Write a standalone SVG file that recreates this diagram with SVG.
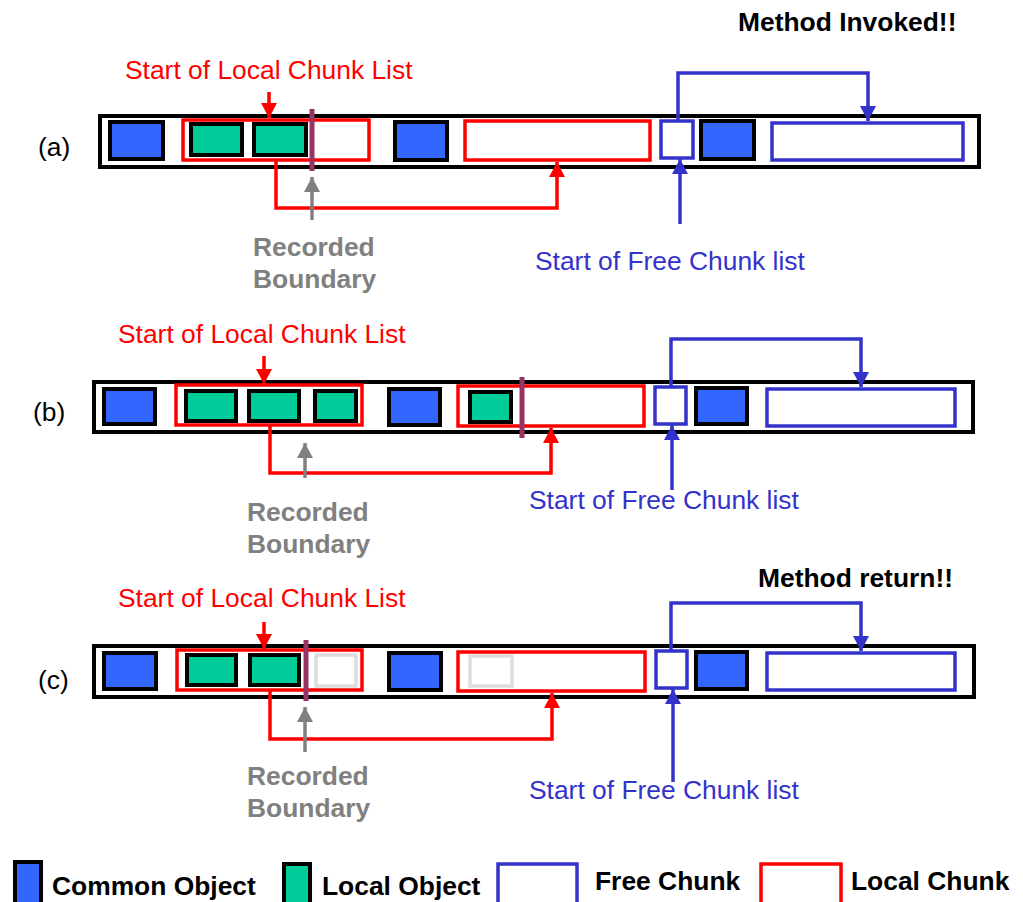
<svg xmlns="http://www.w3.org/2000/svg" width="1023" height="902" viewBox="0 0 1023 902">
<defs>
<style>
.t{font-family:"Liberation Sans",Arial,sans-serif;font-size:26.4px}
.b{font-weight:bold}
.outer{fill:#fff;stroke:#000;stroke-width:4}
.common{fill:#3366FF;stroke:#000;stroke-width:4}
.local{fill:#00CC99;stroke:#000;stroke-width:4}
.lchunk{fill:none;stroke:#FF0000;stroke-width:3.5}
.fchunk{fill:none;stroke:#3333CC;stroke-width:3.5}
.ghost{fill:none;stroke:#DDDDDD;stroke-width:3.5}
.bound{stroke:#993366;stroke-width:5}
.rc{fill:none;stroke:#FF0000;stroke-width:3.5;marker-end:url(#ar)}
.bc{fill:none;stroke:#3333CC;stroke-width:3.5;marker-end:url(#ab)}
.gc{fill:none;stroke:#808080;stroke-width:3.5;marker-end:url(#ag)}
</style>
<marker id="ar" markerUnits="userSpaceOnUse" markerWidth="16" markerHeight="16" refX="15" refY="8" orient="auto"><path d="M0,0 L15,8 L0,16 z" fill="#FF0000"/></marker>
<marker id="ab" markerUnits="userSpaceOnUse" markerWidth="16" markerHeight="16" refX="15" refY="8" orient="auto"><path d="M0,0 L15,8 L0,16 z" fill="#3333CC"/></marker>
<marker id="ag" markerUnits="userSpaceOnUse" markerWidth="16" markerHeight="16" refX="15" refY="8" orient="auto"><path d="M0,0 L15,8 L0,16 z" fill="#808080"/></marker>
</defs>
<rect width="1023" height="902" fill="#fff"/>

<!-- Panel (a) -->
<g id="panel-a">
<text class="t" x="38" y="156">(a)</text>
<text class="t b" x="738" y="31">Method Invoked!!</text>
<rect class="outer" x="100" y="116" width="879" height="51"/>
<rect id="a-common1" class="common" x="110" y="122" width="53" height="37"/>
<rect id="a-local1" class="local" x="191" y="124" width="51" height="31"/>
<rect id="a-local2" class="local" x="254" y="124" width="52" height="31"/>
<rect id="a-lchunk1" class="lchunk" x="183" y="120" width="186" height="40"/>
<rect id="a-common2" class="common" x="395" y="122" width="52" height="38"/>
<rect id="a-lchunk2" class="lchunk" x="465" y="121" width="185" height="39"/>
<rect id="a-fchunk1" class="fchunk" x="661" y="121" width="32" height="37"/>
<rect id="a-common3" class="common" x="701" y="121" width="53" height="38"/>
<rect id="a-fchunk2" class="fchunk" x="772" y="123" width="191" height="37"/>
<line id="a-boundary" class="bound" x1="312" y1="109" x2="312" y2="171"/>
</g>

<!-- Panel (b) -->
<g id="panel-b">
<text class="t" x="33" y="421">(b)</text>
<rect class="outer" x="94" y="382" width="879" height="50"/>
<rect id="b-common1" class="common" x="104" y="389" width="51" height="35"/>
<rect id="b-local1" class="local" x="186" y="391" width="50" height="30"/>
<rect id="b-local2" class="local" x="249" y="391" width="50" height="30"/>
<rect id="b-local3" class="local" x="315" y="391" width="41" height="30"/>
<rect id="b-lchunk1" class="lchunk" x="176" y="385" width="186" height="40"/>
<rect id="b-common2" class="common" x="389" y="389" width="51" height="36"/>
<rect id="b-lchunk2" class="lchunk" x="458" y="386" width="186" height="40"/>
<rect id="b-local4" class="local" x="470" y="392" width="41" height="30"/>
<rect id="b-fchunk1" class="fchunk" x="655" y="387" width="31" height="37"/>
<rect id="b-common3" class="common" x="696" y="388" width="51" height="36"/>
<rect id="b-fchunk2" class="fchunk" x="767" y="389" width="188" height="37"/>
<line id="b-boundary" class="bound" x1="522" y1="377" x2="522" y2="438"/>
</g>

<!-- Panel (c) -->
<g id="panel-c">
<text class="t" x="38" y="689">(c)</text>
<text class="t b" x="758" y="587">Method return!!</text>
<rect class="outer" x="94" y="646" width="880" height="51"/>
<rect id="c-common1" class="common" x="104" y="653" width="52" height="36"/>
<rect id="c-local1" class="local" x="187" y="655" width="49" height="30"/>
<rect id="c-local2" class="local" x="250" y="655" width="49" height="30"/>
<rect id="c-ghost1" class="ghost" x="316" y="655" width="40" height="31"/>
<rect id="c-lchunk1" class="lchunk" x="177" y="650" width="185" height="40"/>
<rect id="c-common2" class="common" x="389" y="653" width="52" height="37"/>
<rect id="c-lchunk2" class="lchunk" x="458" y="652" width="187" height="39"/>
<rect id="c-ghost2" class="ghost" x="470" y="656" width="42" height="30"/>
<rect id="c-fchunk1" class="fchunk" x="656" y="651" width="31" height="37"/>
<rect id="c-common3" class="common" x="696" y="652" width="51" height="37"/>
<rect id="c-fchunk2" class="fchunk" x="767" y="653" width="188" height="37"/>
<line id="c-boundary" class="bound" x1="306" y1="640" x2="306" y2="701"/>
</g>

<!-- Labels -->
<g id="labels">
<text class="t" x="125" y="79" fill="#FF0000">Start of Local Chunk List</text>
<text class="t" x="118" y="343" fill="#FF0000">Start of Local Chunk List</text>
<text class="t" x="118" y="607" fill="#FF0000">Start of Local Chunk List</text>
<text class="t" x="535" y="270" fill="#3333CC">Start of Free Chunk list</text>
<text class="t" x="529" y="509" fill="#3333CC">Start of Free Chunk list</text>
<text class="t" x="529" y="799" fill="#3333CC">Start of Free Chunk list</text>
<text class="t b" fill="#808080"><tspan x="253" y="256">Recorded</tspan><tspan x="253" y="288">Boundary</tspan></text>
<text class="t b" fill="#808080"><tspan x="247" y="521">Recorded</tspan><tspan x="247" y="553">Boundary</tspan></text>
<text class="t b" fill="#808080"><tspan x="247" y="785">Recorded</tspan><tspan x="247" y="817">Boundary</tspan></text>
</g>

<!-- Connectors -->
<g id="connectors">
<line class="rc" x1="269" y1="92" x2="269" y2="118"/>
<polyline class="rc" points="276,161 276,208 557,208 557,162"/>
<polyline class="bc" points="678,120 678,73 868,73 868,121"/>
<line class="bc" x1="680" y1="224" x2="680" y2="159"/>
<line class="gc" x1="312" y1="220" x2="312" y2="177"/>

<line class="rc" x1="264" y1="356" x2="264" y2="384"/>
<polyline class="rc" points="270,426 270,473 551,473 551,428"/>
<polyline class="bc" points="671,386 671,339 861,339 861,387"/>
<line class="bc" x1="672" y1="490" x2="672" y2="425"/>
<line class="gc" x1="305" y1="478" x2="305" y2="443"/>

<line class="rc" x1="264" y1="622" x2="264" y2="649"/>
<polyline class="rc" points="270,691 270,739 552,739 552,693"/>
<polyline class="bc" points="671,650 671,603 861,603 861,651"/>
<line class="bc" x1="673" y1="782" x2="673" y2="689"/>
<line class="gc" x1="305" y1="752" x2="305" y2="707"/>
</g>

<!-- Legend -->
<g id="legend">
<rect class="common" x="15" y="862" width="26" height="44"/>
<text class="t b" x="52" y="895">Common Object</text>
<rect class="local" x="284" y="864" width="26" height="44"/>
<text class="t b" x="322" y="895">Local Object</text>
<rect class="fchunk" x="498" y="864" width="79" height="44"/>
<text class="t b" x="595" y="890">Free Chunk</text>
<rect class="lchunk" x="761" y="864" width="80" height="44"/>
<text class="t b" x="851" y="890">Local Chunk</text>
</g>
</svg>
